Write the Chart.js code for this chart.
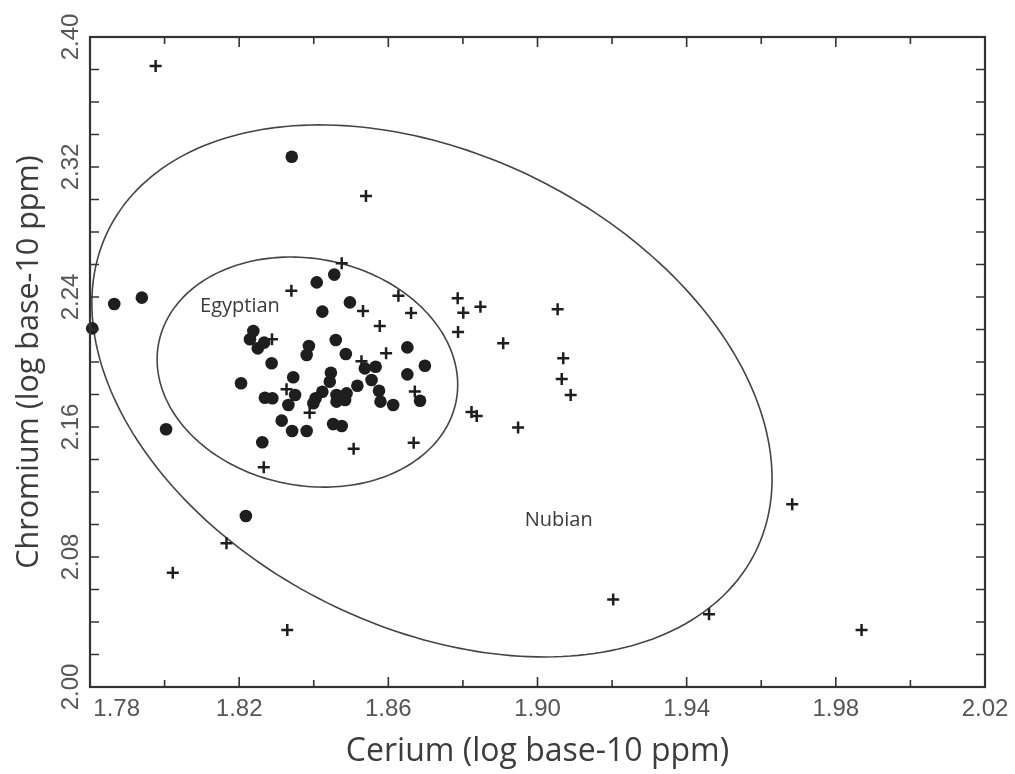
<!DOCTYPE html>
<html>
<head>
<meta charset="utf-8">
<script src="https://cdn.jsdelivr.net/npm/chart.js"></script>
<style>
  body { margin: 0; background: #fff; }
  #wrap { width: 1015px; height: 774px; }
</style>
</head>
<body>
<div id="wrap"><canvas id="myChart"></canvas></div>
<script>
// Egyptian samples (filled circles)
var egyptianCe = [1.7806, 1.7865, 1.7939, 1.8341, 1.8004, 1.8218, 1.8408, 1.8455, 1.8497, 1.8423,
	1.8238, 1.8229, 1.8250, 1.8267, 1.8387, 1.8381, 1.8459, 1.8486, 1.8287, 1.8651,
	1.8698, 1.8651, 1.8537, 1.8566, 1.8555, 1.8446, 1.8443, 1.8205, 1.8345, 1.8517,
	1.8269, 1.8289, 1.8350, 1.8332, 1.8423, 1.8405, 1.8399, 1.8461, 1.8461, 1.8488,
	1.8484, 1.8575, 1.8579, 1.8613, 1.8685, 1.8314, 1.8342, 1.8381, 1.8452, 1.8475, 1.8262];
var egyptianCr = [2.2207, 2.2357, 2.2396, 2.3263, 2.1586, 2.1052, 2.2490, 2.2538, 2.2367, 2.2310,
	2.2191, 2.2140, 2.2084, 2.2119, 2.2098, 2.2043, 2.2135, 2.2049, 2.1992, 2.2090,
	2.1977, 2.1924, 2.1961, 2.1971, 2.1889, 2.1934, 2.1879, 2.1869, 2.1906, 2.1854,
	2.1780, 2.1777, 2.1797, 2.1735, 2.1817, 2.1777, 2.1746, 2.1797, 2.1756, 2.1807,
	2.1766, 2.1823, 2.1756, 2.1735, 2.1762, 2.1639, 2.1575, 2.1575, 2.1618, 2.1606, 2.1506];

// Nubian samples (crosses)
var nubianCe = [1.7976, 1.8540, 1.8475, 1.8340, 1.8627, 1.8786, 1.8847, 1.8801, 1.8661, 1.8532,
	1.8787, 1.8577, 1.8908, 1.9054, 1.9069, 1.9065, 1.9089, 1.8288, 1.8594, 1.8528,
	1.8327, 1.8671, 1.8389, 1.8823, 1.8837, 1.8948, 1.8507, 1.8668, 1.8266, 1.9683,
	1.8166, 1.8022, 1.9203, 1.9460, 1.8329, 1.9869];
var nubianCr = [2.3822, 2.3022, 2.2607, 2.2439, 2.2408, 2.2392, 2.2340, 2.2303, 2.2302, 2.2314,
	2.2185, 2.2222, 2.2115, 2.2324, 2.2023, 2.1895, 2.1797, 2.2140, 2.2054, 2.2004,
	2.1832, 2.1818, 2.1688, 2.1692, 2.1668, 2.1597, 2.1466, 2.1503, 2.1352, 2.1124,
	2.0884, 2.0703, 2.0538, 2.0447, 2.0351, 2.0351];

// group ellipses: centre, half extents along each axis, correlation
var groupNames = ["Egyptian", "Nubian"];
var ellipseCe = [1.8383, 1.8717];
var ellipseCr = [2.1938, 2.1822];
var ellipseHalfCe = [0.0403, 0.0912];
var ellipseHalfCr = [0.0708, 0.1637];
var ellipseCorr = [-0.11, -0.33];
var nameCe = [1.8202, 1.9057];
var nameCr = [2.2340, 2.1023];

var xMin = 1.78, xMax = 2.02, xStep = 0.02;
var yMin = 2.00, yMax = 2.40, yStep = 0.02;

function toPoints(xs, ys) {
	return xs.map(function (v, i) { return { x: v, y: ys[i] }; });
}

var groupPlugin = {
	id: "groups",
	beforeDatasetsDraw: function (chart) {
		var ctx = chart.ctx, a = chart.chartArea, x = chart.scales.x, y = chart.scales.y;
		ctx.save();
		ctx.beginPath();
		ctx.rect(a.left, a.top, a.right - a.left, a.bottom - a.top);
		ctx.clip();
		ctx.strokeStyle = "#444";
		ctx.lineWidth = 1.6;
		for (var i = 0; i < groupNames.length; i++) {
			var phi = Math.acos(ellipseCorr[i]);
			ctx.beginPath();
			for (var k = 0; k <= 240; k++) {
				var t = k / 240 * 2 * Math.PI;
				var px = x.getPixelForValue(ellipseCe[i] + ellipseHalfCe[i] * Math.cos(t));
				var py = y.getPixelForValue(ellipseCr[i] + ellipseHalfCr[i] * Math.cos(t + phi));
				if (k === 0) ctx.moveTo(px, py); else ctx.lineTo(px, py);
			}
			ctx.closePath();
			ctx.stroke();
		}
		ctx.fillStyle = "#3a3a3a";
		ctx.font = "20px 'Open Sans'";
		ctx.textAlign = "center";
		ctx.textBaseline = "middle";
		for (var j = 0; j < groupNames.length; j++) {
			ctx.fillText(groupNames[j], x.getPixelForValue(nameCe[j]), y.getPixelForValue(nameCr[j]));
		}
		ctx.restore();
	},
	afterDraw: function (chart) {
		// frame with inward ticks on all four sides
		var ctx = chart.ctx, a = chart.chartArea, x = chart.scales.x, y = chart.scales.y;
		ctx.save();
		ctx.strokeStyle = "#333";
		ctx.lineWidth = 1.6;
		ctx.beginPath();
		x.ticks.forEach(function (tk) {
			var px = x.getPixelForValue(tk.value);
			var len = Math.round(tk.value * 100) % 4 === 2 ? 10 : 7;
			ctx.moveTo(px, a.bottom); ctx.lineTo(px, a.bottom - len);
			ctx.moveTo(px, a.top); ctx.lineTo(px, a.top + len);
		});
		y.ticks.forEach(function (tk) {
			var py = y.getPixelForValue(tk.value);
			ctx.moveTo(a.left, py); ctx.lineTo(a.left + 9, py);
			ctx.moveTo(a.right, py); ctx.lineTo(a.right - 9, py);
		});
		ctx.stroke();
		ctx.lineWidth = 2.2;
		ctx.strokeRect(a.left, a.top, a.right - a.left, a.bottom - a.top);
		ctx.restore();
	}
};

var ctx = document.getElementById("myChart").getContext("2d");
var myChart = new Chart(ctx, {
	type: "scatter",
	data: {
		datasets: [
			{
				label: "Egyptian",
				data: toPoints(egyptianCe, egyptianCr),
				pointStyle: "circle",
				pointRadius: 6.3,
				pointHoverRadius: 6.3,
				backgroundColor: "#1e1e1e",
				borderColor: "#1e1e1e",
				borderWidth: 0,
				order: 1,
				clip: false,
			},
			{
				label: "Nubian",
				data: toPoints(nubianCe, nubianCr),
				pointStyle: "cross",
				pointRadius: 6,
				pointHoverRadius: 6,
				borderColor: "#1e1e1e",
				borderWidth: 2.5,
				order: 0,
				clip: false,
			},
		],
	},
	options: {
		responsive: true,
		maintainAspectRatio: false,
		animation: false,
		events: [],
		layout: { padding: { left: 0, right: 30, top: 37, bottom: 0 } },
		plugins: { legend: { display: false }, tooltip: { enabled: false } },
		scales: {
			x: {
				type: "linear",
				min: xMin,
				max: xMax,
				grid: { display: false, drawTicks: false },
				border: { display: false },
				ticks: {
					stepSize: xStep,
					autoSkip: false,
					maxRotation: 0,
					padding: 8,
					color: "#555",
					font: { family: "'Liberation Sans', Arial", size: 24 },
					callback: function (value) {
						var v = Math.round(value * 100);
						if (v % 4 !== 2) return "";
						if (v === 178) return "        1.78";
						return value.toFixed(2);
					},
				},
				title: {
					display: true,
					text: "Cerium (log base-10 ppm)",
					color: "#3c3c3c",
					font: { family: "'Open Sans'", size: 32 },
					padding: { top: 0, bottom: 3 },
				},
				afterFit: function (scale) {
					scale.height = 87;
					scale.paddingLeft = 0;
					scale.paddingRight = 0;
				},
			},
			y: {
				type: "linear",
				min: yMin,
				max: yMax,
				grid: { display: false, drawTicks: false },
				border: { display: false },
				ticks: {
					stepSize: yStep,
					autoSkip: false,
					minRotation: 90,
					maxRotation: 90,
					crossAlign: "center",
					padding: -5,
					color: "#555",
					font: { family: "'Liberation Sans', Arial", size: 24 },
					callback: function (value) {
						var v = Math.round(value * 100);
						return v % 8 === 0 ? value.toFixed(2) : "";
					},
				},
				title: {
					display: true,
					text: "Chromium (log base-10 ppm)",
					color: "#3c3c3c",
					font: { family: "'Open Sans'", size: 30.5 },
					padding: { top: 11, bottom: 0 },
				},
				afterFit: function (scale) {
					scale.width = 90;
					scale.paddingTop = 0;
					scale.paddingBottom = 0;
				},
			},
		},
	},
	plugins: [groupPlugin],
});
</script>
</body>
</html>
